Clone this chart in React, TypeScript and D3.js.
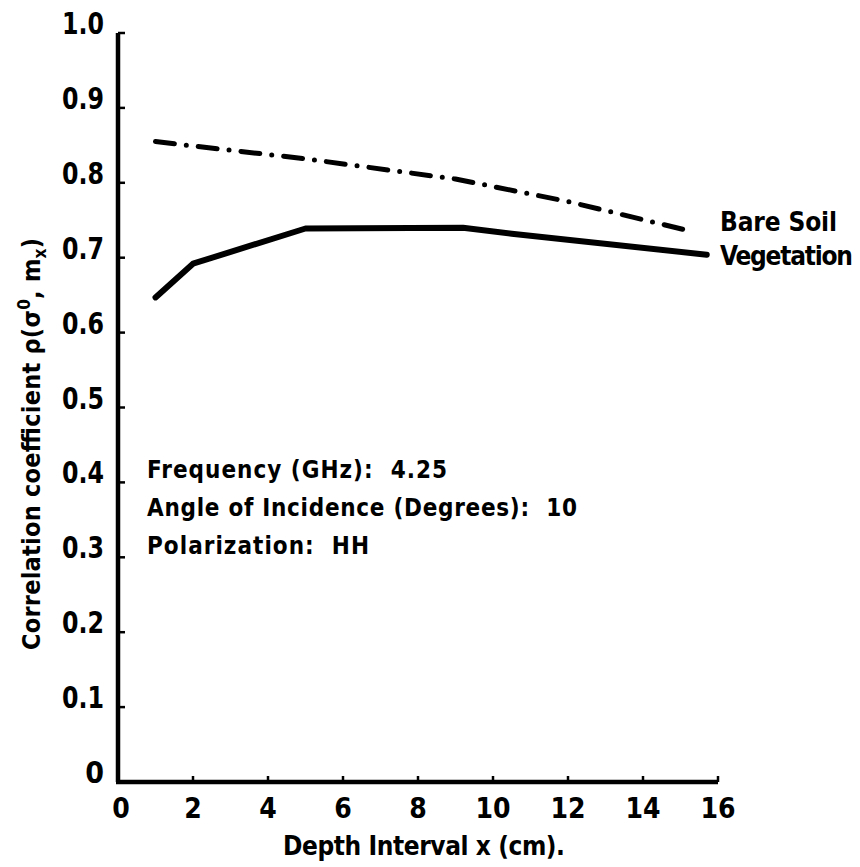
import React from "react";
import * as d3 from "d3";

const W = 860;
const H = 867;

const xTicks = [0, 2, 4, 6, 8, 10, 12, 14, 16];
const yTicks = [0, 0.1, 0.2, 0.3, 0.4, 0.5, 0.6, 0.7, 0.8, 0.9, 1.0];
const yTickLabels = ["0", "0.1", "0.2", "0.3", "0.4", "0.5", "0.6", "0.7", "0.8", "0.9", "1.0"];

const bareSoilX = [1, 5, 9, 12, 15.3];
const bareSoilY = [0.855, 0.832, 0.805, 0.775, 0.735];

const vegetationX = [1, 2, 5, 9.2, 10.5, 15.7];
const vegetationY = [0.647, 0.692, 0.739, 0.74, 0.732, 0.704];

const seriesLabels = ["Bare Soil", "Vegetation"];
const notes = [
  "Frequency (GHz):  4.25",
  "Angle of Incidence (Degrees):  10",
  "Polarization:  HH",
];

const FONT = "'DejaVu Sans Condensed', 'DejaVu Sans', sans-serif";

export default function App() {
  const x = d3.scaleLinear().domain([0, 16]).range([118, 718]);
  const y = d3.scaleLinear().domain([0, 1]).range([782, 33]);

  const line = d3
    .line<[number, number]>()
    .x((d) => x(d[0]))
    .y((d) => y(d[1]));

  const bare = bareSoilX.map((v, i) => [v, bareSoilY[i]] as [number, number]);
  const veg = vegetationX.map((v, i) => [v, vegetationY[i]] as [number, number]);

  const noteWidths = [300, 430, 222];

  return (
    <svg
      width={W}
      height={H}
      style={{ position: "absolute", left: 0, top: 0, background: "#fff" }}
      fontFamily={FONT}
      fontWeight="bold"
    >
      <rect width={W} height={H} fill="#fff" />
      {/* axes */}
      <line x1={x(0)} x2={x(0)} y1={y(1)} y2={y(0)} stroke="#000" strokeWidth={4.5} />
      <line x1={x(0) - 2} x2={x(16)} y1={y(0)} y2={y(0)} stroke="#000" strokeWidth={4.5} />
      {yTicks.slice(1).map((t) => (
        <line key={"yt" + t} x1={x(0)} x2={x(0) + 7} y1={y(t)} y2={y(t)} stroke="#000" strokeWidth={2.5} />
      ))}
      {xTicks.slice(1).map((t) => (
        <line key={"xt" + t} x1={x(t)} x2={x(t)} y1={y(0)} y2={y(0) - 6} stroke="#000" strokeWidth={2.5} />
      ))}
      {yTicks.map((t, i) => (
        <text
          key={"yl" + t}
          x={104}
          y={y(t) + 1}
          textAnchor="end"
          fontSize={30}
          textLength={yTickLabels[i].length > 1 ? 42 : undefined}
          lengthAdjust="spacingAndGlyphs"
        >
          {yTickLabels[i]}
        </text>
      ))}
      {xTicks.map((t) => (
        <text key={"xl" + t} x={x(t) + (t === 0 ? 3 : 0)} y={818} textAnchor="middle" fontSize={28}>
          {t}
        </text>
      ))}
      {/* axis titles */}
      <text x={283} y={855} fontSize={26} textLength={282} lengthAdjust="spacing">
        Depth Interval x (cm).
      </text>
      <text
        transform="translate(40,444) rotate(-90)"
        textAnchor="middle"
        fontSize={25}
        textLength={412}
        lengthAdjust="spacing"
      >
        Correlation coefficient ρ(σ
        <tspan dy={-10} fontSize={17}>0</tspan>
        <tspan dy={10}>, m</tspan>
        <tspan dy={6} fontSize={17}>x</tspan>
        <tspan dy={-6}>)</tspan>
      </text>
      {/* series */}
      <path
        d={line(bare) || ""}
        fill="none"
        stroke="#000"
        strokeWidth={5}
        strokeLinecap="round"
        strokeDasharray="19 12 0 12"
      />
      <path
        d={line(veg) || ""}
        fill="none"
        stroke="#000"
        strokeWidth={6}
        strokeLinecap="round"
        strokeLinejoin="round"
      />
      <text x={720} y={231} fontSize={26} textLength={117} lengthAdjust="spacing">
        {seriesLabels[0]}
      </text>
      <text x={720} y={265} fontSize={26} textLength={133} lengthAdjust="spacing">
        {seriesLabels[1]}
      </text>
      {/* notes */}
      {notes.map((n, i) => (
        <text
          key={n}
          x={147}
          y={478 + i * 38}
          fontSize={24}
          textLength={noteWidths[i]}
          lengthAdjust="spacing"
          style={{ whiteSpace: "pre" }}
        >
          {n}
        </text>
      ))}
    </svg>
  );
}
